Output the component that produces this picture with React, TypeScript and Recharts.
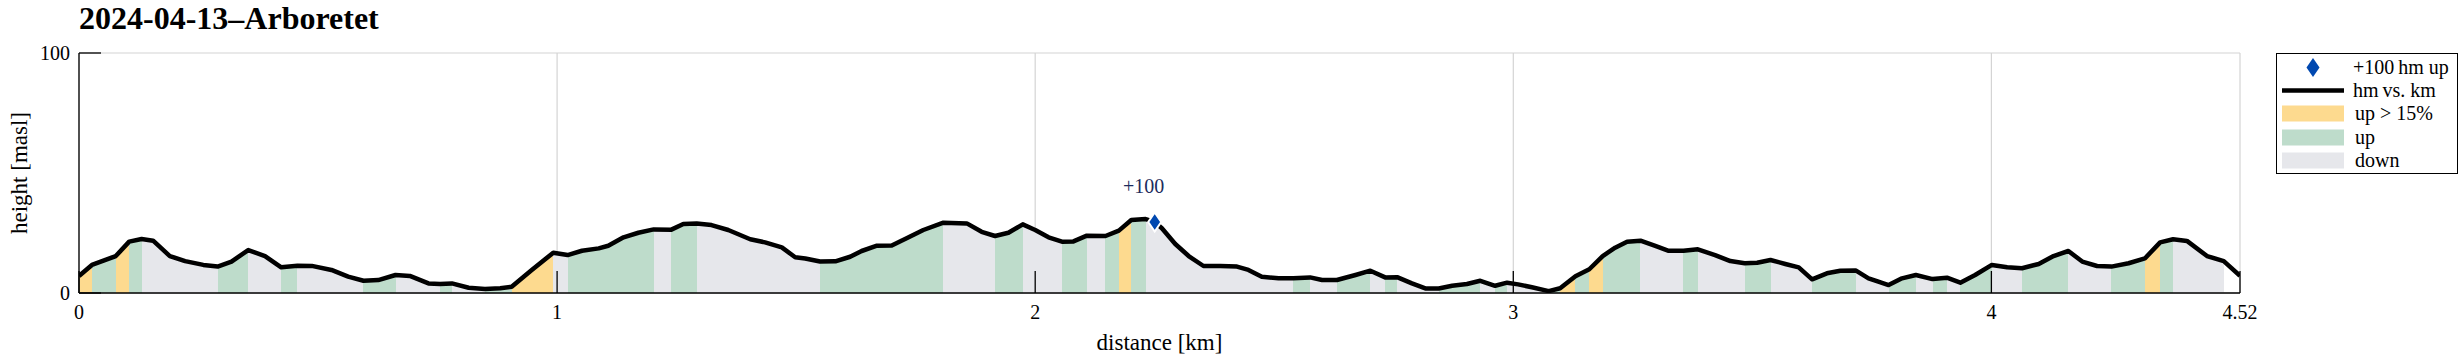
import React from 'react';
import {
  ComposedChart,
  Area,
  Line,
  Scatter,
  XAxis,
  YAxis,
  CartesianGrid,
  Legend,
} from 'recharts';

// ---------------- data ----------------
const distanceKm = [
  0.0, 0.027, 0.077, 0.105, 0.131, 0.155, 0.19, 0.222, 0.26, 0.29, 0.319, 0.354, 0.389, 0.423, 0.457, 0.487,
  0.528, 0.563, 0.595, 0.626, 0.662, 0.692, 0.731, 0.755, 0.78, 0.815, 0.849, 0.881, 0.905, 0.947, 0.992,
  1.022, 1.052, 1.087, 1.107, 1.139, 1.17, 1.202, 1.239, 1.264, 1.292, 1.323, 1.358, 1.404, 1.435, 1.47,
  1.498, 1.519, 1.55, 1.582, 1.613, 1.637, 1.669, 1.7, 1.731, 1.766, 1.808, 1.857, 1.888, 1.916, 1.944,
  1.974, 2.0, 2.028, 2.056, 2.08, 2.108, 2.147, 2.175, 2.201, 2.231, 2.25, 2.265, 2.293, 2.321, 2.352,
  2.387, 2.422, 2.446, 2.474, 2.509, 2.54, 2.575, 2.6, 2.631, 2.67, 2.701, 2.732, 2.757, 2.788, 2.816,
  2.844, 2.872, 2.903, 2.931, 2.962, 2.987, 3.01, 3.039, 3.074, 3.098, 3.13, 3.159, 3.187, 3.213, 3.238,
  3.266, 3.297, 3.325, 3.356, 3.386, 3.422, 3.454, 3.484, 3.51, 3.538, 3.569, 3.597, 3.625, 3.656, 3.684,
  3.716, 3.743, 3.762, 3.785, 3.813, 3.842, 3.877, 3.907, 3.935, 3.966, 4.001, 4.033, 4.064, 4.099, 4.13,
  4.161, 4.19, 4.221, 4.251, 4.287, 4.321, 4.353, 4.38, 4.409, 4.451, 4.486, 4.52,
];

const heightM = [
  7.1, 11.7, 15.4, 21.4, 22.5, 21.8, 15.4, 13.3, 11.7, 11.0, 13.1, 17.9, 15.4, 10.7, 11.4, 11.3,
  9.6, 6.8, 5.1, 5.4, 7.5, 7.1, 4.0, 3.75, 4.0, 2.2, 1.7, 2.0, 2.6, 9.6, 16.8,
  15.8, 17.6, 18.6, 19.7, 23.2, 25.1, 26.5, 26.4, 28.75, 29.0, 28.3, 26.25, 22.4, 21.1, 19.0,
  14.9, 14.4, 13.1, 13.2, 15.1, 17.5, 19.7, 19.8, 22.8, 26.25, 29.3, 29.0, 25.5, 23.75, 25.1,
  28.6, 26.25, 23.2, 21.4, 21.5, 23.9, 23.75, 26.0, 30.4, 30.8, 29.6, 27.0, 20.4, 15.4, 11.25,
  11.2, 11.0, 9.6, 6.8, 6.1, 6.1, 6.5, 5.4, 5.4, 7.5, 9.3, 6.5, 6.6, 4.0, 1.9,
  1.9, 3.0, 3.75, 5.1, 3.0, 4.3, 3.6, 2.4, 0.8, 2.0, 7.0, 9.9, 15.4, 18.9, 21.4,
  21.8, 19.6, 17.6, 17.6, 18.2, 15.8, 13.3, 12.4, 12.6, 13.75, 12.1, 10.7, 5.7, 8.2, 9.3,
  9.4, 6.1, 4.8, 3.3, 6.1, 7.5, 5.8, 6.4, 4.3, 7.5, 11.7, 10.7, 10.3, 12.1, 15.4,
  17.5, 13.1, 11.25, 11.0, 12.4, 14.4, 21.1, 22.4, 21.7, 15.4, 13.3, 7.2,
];

const milestoneKm = [2.25];
const milestoneH = [29.6];
const milestoneText = ['+100'];

const xTicks = [0, 1, 2, 3, 4, 4.52];
const yTicks = [0, 100];

const legendLabels = ['+100\u2009hm up', 'hm\u2009vs. km', 'up > 15%', 'up', 'down'];

// ---------------- styles ----------------
const FONT = '"Liberation Serif", "DejaVu Serif", serif';
const STEEP = '#FDDA8F';
const UP = '#BEDCCB';
const DOWN = '#E6E7EB';
const DIAMOND = '#0048B0';
const LABEL_NAVY = '#1C2B5C';
const GRID = '#D4D4D4';

// ---------------- derived ----------------
const profile = distanceKm.map((km, i) => ({ km, h: heightM[i] }));
const milestones = milestoneKm.map((km, i) => ({ km, h: milestoneH[i], label: milestoneText[i] }));

const n = distanceKm.length;
const span = distanceKm[n - 1] - distanceKm[0];

function segmentColor(i: number): string | null {
  if (i >= n - 2) return null; // final segment left unshaded
  const rise = heightM[i + 1] - heightM[i];
  const grade = rise / ((distanceKm[i + 1] - distanceKm[i]) * 1000);
  if (grade > 0.15) return STEEP;
  if (grade > 0) return UP;
  return DOWN;
}

const gradientStops: { offset: string; color: string; opacity: number }[] = [];
for (let i = 0; i < n - 1; i++) {
  const c = segmentColor(i);
  const a = ((distanceKm[i] - distanceKm[0]) / span) * 100;
  const b = ((distanceKm[i + 1] - distanceKm[0]) / span) * 100;
  gradientStops.push({ offset: `${a}%`, color: c || '#FFFFFF', opacity: c ? 1 : 0 });
  gradientStops.push({ offset: `${b}%`, color: c || '#FFFFFF', opacity: c ? 1 : 0 });
}

// ---------------- components ----------------
const XTick = (props: any) => {
  const { x, y, payload } = props;
  return (
    <g>
      <line x1={x} x2={x} y1={y - 22} y2={y} stroke="#000" strokeWidth={1.3} />
      <text x={x} y={y + 26} textAnchor="middle" fontFamily={FONT} fontSize={20} fill="#000">
        {String(payload.value)}
      </text>
    </g>
  );
};

const YTick = (props: any) => {
  const { x, y, payload } = props;
  return (
    <g>
      <line x1={x} x2={x + 22} y1={y} y2={y} stroke="#000" strokeWidth={1.3} />
      <text x={x - 9} y={y} dy="0.34em" textAnchor="end" fontFamily={FONT} fontSize={20} fill="#000">
        {String(payload.value)}
      </text>
    </g>
  );
};

const DiamondShape = (props: any) => {
  const { cx, cy, payload } = props;
  const w = 6.5;
  const h = 9.5;
  return (
    <g>
      <polygon
        points={`${cx},${cy - h} ${cx + w},${cy} ${cx},${cy + h} ${cx - w},${cy}`}
        fill={DIAMOND}
        stroke="#fff"
        strokeWidth={2}
      />
      <text x={cx - 11} y={cy - 29} textAnchor="middle" fontFamily={FONT} fontSize={20} fill={LABEL_NAVY}>
        {payload && payload.label}
      </text>
    </g>
  );
};

const legendSymbols = [
  (
    <polygon key="d" points="31,2 37.5,11.5 31,21 24.5,11.5" fill={DIAMOND} />
  ),
  <line key="l" x1={0} x2={62} y1={11.5} y2={11.5} stroke="#000" strokeWidth={4.5} />,
  <rect key="y" x={0} y={3.5} width={62} height={16} fill={STEEP} />,
  <rect key="g" x={0} y={3.5} width={62} height={16} fill={UP} />,
  <rect key="r" x={0} y={3.5} width={62} height={16} fill={DOWN} />,
];

const LegendBox = () => (
  <div
    style={{
      width: 182,
      height: 121,
      border: '1px solid #000',
      boxSizing: 'border-box',
      background: '#fff',
      position: 'relative',
      fontFamily: FONT,
      fontSize: 20,
      color: '#000',
    }}
  >
    {legendLabels.map((lab, i) => (
      <div
        key={lab}
        style={{
          position: 'absolute',
          left: 5,
          top: 1.5 + i * 23.4,
          height: 23,
          display: 'flex',
          alignItems: 'center',
          whiteSpace: 'nowrap',
        }}
      >
        <svg width={62} height={23} style={{ display: 'block' }}>
          {legendSymbols[i]}
        </svg>
        <span style={{ marginLeft: i === 0 || i === 1 ? 9 : 11, lineHeight: '23px' }}>{lab}</span>
      </div>
    ))}
  </div>
);

export default function App() {
  return (
    <div
      style={{
        position: 'absolute',
        left: 0,
        top: 0,
        width: 2464,
        height: 359,
        background: '#fff',
        fontFamily: FONT,
      }}
    >
      <div
        style={{
          position: 'absolute',
          left: 79,
          top: 2,
          fontFamily: FONT,
          fontWeight: 'bold',
          fontSize: 32,
          lineHeight: '32px',
          whiteSpace: 'nowrap',
          color: '#000',
        }}
      >
        2024-04-13–Arboretet
      </div>
      <ComposedChart
        width={2464}
        height={359}
        data={profile}
        margin={{ top: 53, right: 224, bottom: 0, left: 0 }}
      >
        <defs>
          <linearGradient id="bandFill" x1="0" y1="0" x2="1" y2="0">
            {gradientStops.map((s, i) => (
              <stop key={i} offset={s.offset} stopColor={s.color} stopOpacity={s.opacity} />
            ))}
          </linearGradient>
        </defs>
        <CartesianGrid stroke={GRID} strokeWidth={1.2} />
        <Area
          type="linear"
          dataKey="h"
          stroke="none"
          fill="url(#bandFill)"
          fillOpacity={1}
          baseValue={0}
          isAnimationActive={false}
          legendType="none"
        />
        <Line
          type="linear"
          dataKey="h"
          stroke="#000"
          strokeWidth={4.5}
          strokeLinejoin="round"
          dot={false}
          activeDot={false}
          isAnimationActive={false}
          legendType="none"
        />
        <Scatter data={milestones} dataKey="h" shape={<DiamondShape />} isAnimationActive={false} legendType="none" />
        <XAxis
          dataKey="km"
          type="number"
          domain={[0, 4.52]}
          ticks={xTicks}
          interval={0}
          tickSize={0}
          tickMargin={0}
          tickLine={false}
          tick={<XTick />}
          axisLine={{ stroke: '#000', strokeWidth: 1.3 }}
          height={66}
          allowDataOverflow
          label={{
            value: 'distance [km]',
            position: 'insideBottom',
            offset: 9,
            fontFamily: FONT,
            fontSize: 23,
            fill: '#000',
          }}
        />
        <YAxis
          type="number"
          domain={[0, 100]}
          ticks={yTicks}
          interval={0}
          tickSize={0}
          tickMargin={0}
          tickLine={false}
          tick={<YTick />}
          axisLine={{ stroke: '#000', strokeWidth: 1.3 }}
          width={79}
          allowDataOverflow
          label={{
            value: 'height [masl]',
            position: 'insideLeft',
            angle: -90,
            offset: 19,
            fontFamily: FONT,
            fontSize: 23,
            fill: '#000',
            style: { textAnchor: 'middle' },
          }}
        />
        <Legend
          content={<LegendBox />}
          wrapperStyle={{ position: 'absolute', left: 2276, top: 53, width: 0, height: 0 }}
        />
      </ComposedChart>
    </div>
  );
}
